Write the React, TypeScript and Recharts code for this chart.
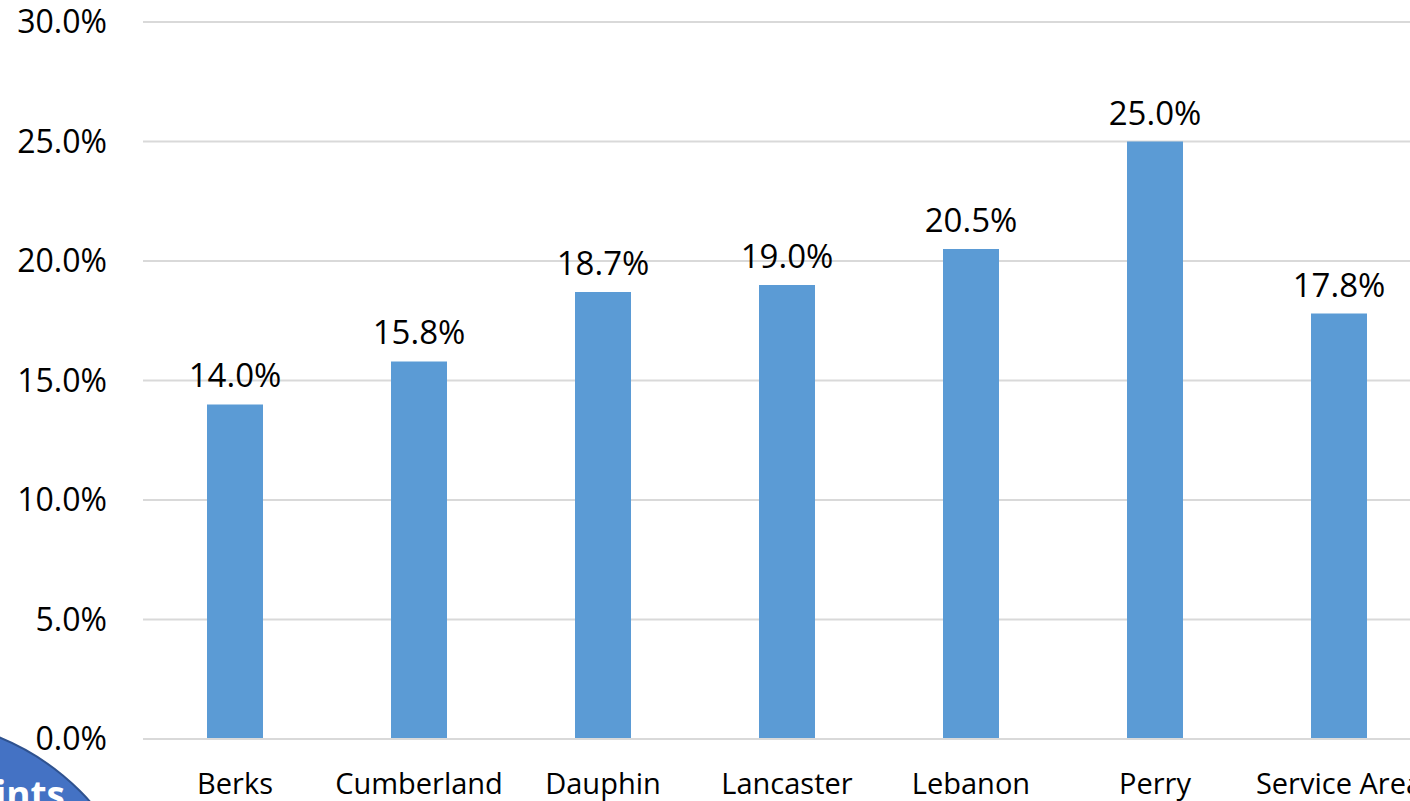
import React from "react";
import { BarChart, Bar, XAxis, YAxis, CartesianGrid, LabelList } from "recharts";

const categories = ["Berks", "Cumberland", "Dauphin", "Lancaster", "Lebanon", "Perry", "Service Area"];
const values = [14.0, 15.8, 18.7, 19.0, 20.5, 25.0, 17.8];
const yTicks = [0, 5, 10, 15, 20, 25, 30];

const data = categories.map((name, i) => ({ name, value: values[i] }));

const FONT = "'Open Sans', 'Noto Sans', sans-serif";

export default function App() {
  return (
    <div
      style={{
        position: "fixed",
        left: 0,
        top: 0,
        width: 1410,
        height: 801,
        overflow: "hidden",
        background: "#ffffff",
        fontFamily: FONT,
      }}
    >
      <BarChart
        width={1440}
        height={801}
        data={data}
        margin={{ top: 22, right: 9, bottom: 0, left: 0 }}
        barCategoryGap={64}
      >
        <CartesianGrid vertical={false} stroke="#D9D9D9" strokeWidth={2} />
        <XAxis
          dataKey="name"
          height={62}
          axisLine={{ stroke: "#D9D9D9", strokeWidth: 2 }}
          tickLine={false}
          tickMargin={28}
          interval={0}
          tick={{ fill: "#000000", fontSize: 29, fontFamily: FONT }}
        />
        <YAxis
          width={143}
          domain={[0, 30]}
          ticks={yTicks}
          axisLine={false}
          tickLine={false}
          tickSize={0}
          tickMargin={36}
          tickFormatter={(v: number) => v.toFixed(1) + "%"}
          tick={{ fill: "#000000", fontSize: 32, fontFamily: FONT }}
        />
        <Bar dataKey="value" fill="#5B9BD5" isAnimationActive={false}>
          <LabelList
            dataKey="value"
            position="top"
            offset={17}
            formatter={(v: number) => v.toFixed(1) + "%"}
            style={{ fill: "#000000", fontSize: 33, fontFamily: FONT }}
          />
        </Bar>
      </BarChart>
      <svg
        width={1410}
        height={801}
        style={{ position: "absolute", left: 0, top: 0, pointerEvents: "none" }}
      >
        <circle cx={-94} cy={965} r={246} fill="#4472C4" stroke="#2F528F" strokeWidth={2} />
        <text
          x={65}
          y={808}
          textAnchor="end"
          fill="#ffffff"
          fontSize={37}
          fontWeight="bold"
          fontFamily={FONT}
        >
          Points
        </text>
      </svg>
    </div>
  );
}
